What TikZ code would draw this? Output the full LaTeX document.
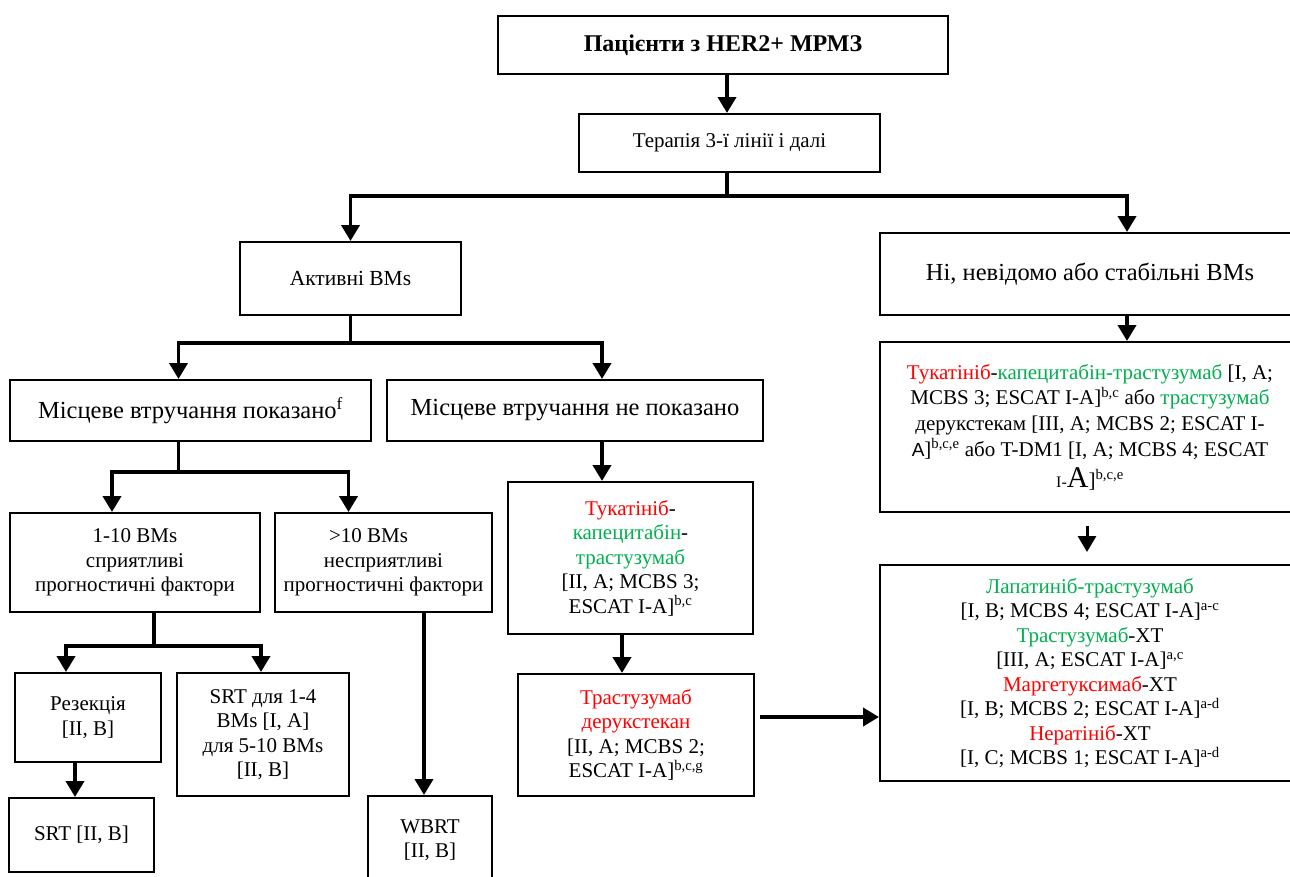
\documentclass[tikz,border=0pt]{standalone}
\usepackage{fontspec}
\setmainfont{Liberation Serif}
\newfontfamily\arialfont{Liberation Sans}
\usetikzlibrary{arrows.meta}
\definecolor{ink}{HTML}{000000}
\definecolor{rot}{HTML}{FF0000}
\definecolor{gruen}{HTML}{00B050}
\newcommand{\rt}[1]{\textcolor{rot}{#1}}
\newcommand{\gr}[1]{\textcolor{gruen}{#1}}

\begin{document}
\begin{tikzpicture}[
    x=1pt, y=-1pt,
    box/.style={draw=ink, line width=2pt, fill=white, inner sep=0pt, align=center,
                font=\fontsize{24.5}{28}\selectfont},
    small/.style={box, font=\fontsize{21}{24.5}\selectfont},
    line/.style={draw=ink, line width=3.8pt},
    arr/.style={line, -{Triangle[width=18pt, length=16pt]}},
  ]

  % Blattfläche, rechts und unten wie im Original angeschnitten
  \clip (0,0) rectangle (1290,876);
  \fill[white] (0,0) rectangle (1290,876);

  % Kopf
  \node[box, font=\fontsize{24}{28}\selectfont, minimum width=450pt, minimum height=58pt] (pat) at (723,45) {\textbf{Пацієнти з HER2+ МРМЗ}};
  \node[box, font=\fontsize{21}{24}\selectfont, minimum width=301pt, minimum height=58pt] (ther) at (729.5,143) {Терапія 3-ї лінії і далі};

  % zweite Ebene
  \node[box, font=\fontsize{21.5}{26}\selectfont, minimum width=221pt, minimum height=73pt] (akt) at (350.5,278.5) {Активні BMs};
  \node[box, minimum width=420pt, minimum height=82pt] (ni) at (1090,274) {Ні, невідомо або стабільні BMs};

  % linker Ast
  \node[box, minimum width=361pt, minimum height=61pt] (lokja) at (190.5,410.5) {Місцеве втручання показано\textsuperscript{f}};
  \node[box, minimum width=376pt, minimum height=61pt] (lokne) at (575,410.5) {Місцеве втручання не показано};
  \node[small, minimum width=250pt, minimum height=99pt] (bm1) at (135,562.5) {1-10 BMs\\сприятливі\\прогностичні фактори};
  \node[small, minimum width=217pt, minimum height=99pt] (bm10) at (383.5,562.5) {>10 BMs\hspace*{30pt}\\несприятливі\hspace*{22pt}\\прогностичні фактори};
  \node[small, minimum width=146pt, minimum height=89pt] (res) at (88,717.5) {Резекція\\{[}II, B]};
  \node[small, minimum width=172pt, minimum height=123pt] (srtl) at (263,734.5) {SRT для 1-4\\BMs [I, A]\\для 5-10 BMs\\{[}II, B]};
  \node[small, minimum width=145pt, minimum height=74pt] (srt) at (81.5,835) {SRT [II, B]};
  \node[small, minimum width=124pt, minimum height=88pt] (wbrt) at (430,840) {WBRT\\{[}II, B]};

  % mittlerer Ast
  \node[small, minimum width=245pt, minimum height=152pt] (tuk) at (630.5,558)
    {\rt{Тукатініб}-\\\gr{капецитабін}-\\\gr{трастузумаб}\\{[}II, A; MCBS 3;\\ESCAT I-A]\textsuperscript{b,c}};
  \node[small, minimum width=236pt, minimum height=122pt] (tdx) at (636,735)
    {\rt{Трастузумаб}\\\rt{дерукстекан}\\{[}II, A; MCBS 2;\\ESCAT I-A]\textsuperscript{b,c,g}};

  % rechter Ast
  \node[small, font=\fontsize{21}{25.7}\selectfont, minimum width=420pt, minimum height=170pt] (rup) at (1090,427)
    {\rt{Тукатініб}-\gr{капецитабін-трастузумаб} [I, A;\\
     MCBS 3; ESCAT I-A]\textsuperscript{b,c} або \gr{трастузумаб}\\
     дерукстекам [III, A; MCBS 2; ESCAT I-\\
     {\arialfont\fontsize{19}{25.7}\selectfont A}]\textsuperscript{b,c,e} або T-DM1 [I, A; MCBS 4; ESCAT\\[5pt]
     {\fontsize{16}{32}\selectfont I-}{\fontsize{30}{32}\selectfont A}]\textsuperscript{b,c,e}};
  \node[small, minimum width=420pt, minimum height=216pt] (rlo) at (1090,673)
    {\gr{Лапатиніб-трастузумаб}\\
     {[}I, B; MCBS 4; ESCAT I-A]\textsuperscript{a-c}\\
     \gr{Трастузумаб}-ХТ\\
     {[}III, A; ESCAT I-A]\textsuperscript{a,c}\\
     \rt{Маргетуксимаб}-ХТ\\
     {[}I, B; MCBS 2; ESCAT I-A]\textsuperscript{a-d}\\
     \rt{Нератініб}-ХТ\\
     {[}I, C; MCBS 1; ESCAT I-A]\textsuperscript{a-d}};

  % Verbindungen
  \draw[arr] (pat.south -| 727,0) -- (ther.north -| 727,0);
  \draw[line] (ther.south -| 727,0) -- ++(0,23) coordinate (j1);
  \draw[arr] (j1) -| (akt.north);
  \draw[arr] (j1) -| ([xshift=37pt]ni.north);
  \draw[arr] ([xshift=37pt]ni.south) -- ([xshift=37pt]rup.north);

  \draw[line] (akt.south) -- ++(0,27) coordinate (j2);
  \draw[arr] (j2) -| ([xshift=-12pt]lokja.north);
  \draw[arr] (j2) -| ([xshift=27pt]lokne.north);

  \draw[line] ([xshift=-12pt]lokja.south) -- ++(0,30) coordinate (j3);
  \draw[arr] (j3) -| ([xshift=-23pt]bm1.north);
  \draw[arr] (j3) -| ([xshift=-35pt]bm10.north);

  \draw[line] ([xshift=19pt]bm1.south) -- ++(0,33) coordinate (j4);
  \draw[arr] (j4) -| ([xshift=-22pt]res.north);
  \draw[arr] (j4) -| ([xshift=-2pt]srtl.north);
  \draw[arr] ([xshift=-13pt]res.south) -- ([xshift=-6.5pt]srt.north);
  \draw[arr] ([xshift=40.5pt]bm10.south) -- ([xshift=-6pt]wbrt.north);

  \draw[arr] ([xshift=27pt]lokne.south) -- ([xshift=-28.5pt]tuk.north);
  \draw[arr] ([xshift=-8.5pt]tuk.south) -- ([xshift=-14pt]tdx.north);
  \draw[arr, shorten <=5pt] ([yshift=18pt]tdx.east) -- ([yshift=18pt]tdx.east -| rlo.west);
  \draw[arr, line width=3pt, shorten <=13pt, shorten >=12pt] ([xshift=-3pt]rup.south) -- ([xshift=-3pt]rlo.north);

\end{tikzpicture}
\end{document}
